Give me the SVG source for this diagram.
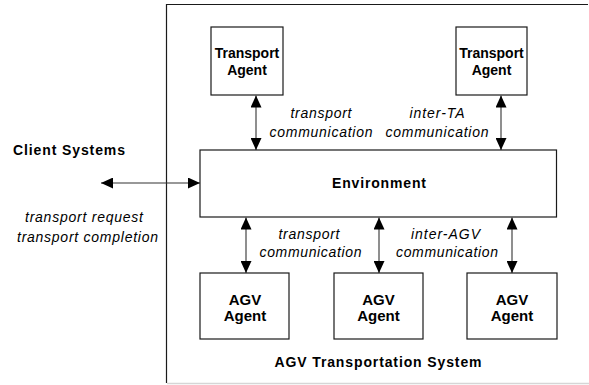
<svg xmlns="http://www.w3.org/2000/svg" width="589" height="385" viewBox="0 0 589 385">
  <style>
    .box { fill: #ffffff; stroke: #1a1a1a; stroke-width: 1.2; }
    .frame { fill: none; stroke: #1a1a1a; stroke-width: 1.2; }
    .frame-base { fill: none; stroke: #d6d6d6; stroke-width: 1.5; }
    .link { fill: none; stroke: #333333; stroke-width: 1.1; marker-start: url(#head); marker-end: url(#head); }
    .title { font-family: "Liberation Sans", Arial, sans-serif; font-size: 14px; font-weight: bold; fill: #000; text-anchor: middle; }
    .agent { font-family: "Liberation Sans", Arial, sans-serif; font-size: 15px; font-weight: bold; fill: #000; text-anchor: middle; }
    .note { font-family: "Liberation Sans", Arial, sans-serif; font-size: 14px; font-style: italic; fill: #000; text-anchor: middle; }
  </style>
  <defs>
    <marker id="head" viewBox="0 0 12 11" refX="12" refY="5.5" markerWidth="12" markerHeight="11" markerUnits="userSpaceOnUse" orient="auto-start-reverse">
      <path d="M0,0 L12,5.5 L0,11 z" fill="#000"/>
    </marker>
  </defs>
  <rect width="589" height="385" fill="#ffffff"/>

  <!-- system boundary -->
  <g id="system-boundary">
    <path class="frame" d="M166.5,383 L166.5,4.5 L588,4.5"/>
    <path class="frame-base" d="M167,383.5 L589,383.5"/>
    <text class="title" x="378" y="367" textLength="207" lengthAdjust="spacing">AGV Transportation System</text>
  </g>

  <!-- connectors -->
  <g id="connectors">
    <line class="link" x1="256" y1="95.5" x2="256" y2="150"/>
    <line class="link" x1="501" y1="95.5" x2="501" y2="150"/>
    <line class="link" x1="246" y1="217.5" x2="246" y2="273"/>
    <line class="link" x1="379" y1="217.5" x2="379" y2="273"/>
    <line class="link" x1="512" y1="217.5" x2="512" y2="273"/>
    <line class="link" x1="101" y1="183" x2="200" y2="183"/>
    <text class="note" x="321" y="118" textLength="61" lengthAdjust="spacing">transport</text>
    <text class="note" x="321" y="137" textLength="103" lengthAdjust="spacing">communication</text>
    <text class="note" x="437" y="118" textLength="55" lengthAdjust="spacing">inter-TA</text>
    <text class="note" x="437" y="137" textLength="103" lengthAdjust="spacing">communication</text>
    <text class="note" x="309" y="239" textLength="61" lengthAdjust="spacing">transport</text>
    <text class="note" x="310.5" y="257" textLength="102" lengthAdjust="spacing">communication</text>
    <text class="note" x="445.5" y="239" textLength="69" lengthAdjust="spacing">inter-AGV</text>
    <text class="note" x="447" y="257" textLength="102" lengthAdjust="spacing">communication</text>
    <text class="note" x="84" y="222" textLength="118" lengthAdjust="spacing">transport request</text>
    <text class="note" x="87.5" y="242" textLength="141" lengthAdjust="spacing">transport completion</text>
  </g>

  <g id="client-systems">
    <text class="title" x="69" y="155" textLength="112" lengthAdjust="spacing">Client Systems</text>
  </g>

  <g id="transport-agent-1">
    <rect class="box" x="211" y="27" width="72" height="68"/>
    <text class="title" x="247" y="58">Transport</text>
    <text class="title" x="247" y="75">Agent</text>
  </g>

  <g id="transport-agent-2">
    <rect class="box" x="456" y="27" width="71" height="68"/>
    <text class="title" x="491.5" y="58">Transport</text>
    <text class="title" x="491.5" y="75">Agent</text>
  </g>

  <g id="environment">
    <rect class="box" x="200" y="150" width="356.5" height="67"/>
    <text class="title" x="379" y="188" textLength="94" lengthAdjust="spacing">Environment</text>
  </g>

  <g id="agv-agent-1">
    <rect class="box" x="200" y="273" width="89" height="66"/>
    <text class="agent" x="245" y="305">AGV</text>
    <text class="agent" x="245" y="321">Agent</text>
  </g>

  <g id="agv-agent-2">
    <rect class="box" x="334" y="273" width="89" height="66"/>
    <text class="agent" x="378.5" y="305">AGV</text>
    <text class="agent" x="378.5" y="321">Agent</text>
  </g>

  <g id="agv-agent-3">
    <rect class="box" x="467" y="273" width="90" height="66"/>
    <text class="agent" x="512" y="305">AGV</text>
    <text class="agent" x="512" y="321">Agent</text>
  </g>
</svg>
